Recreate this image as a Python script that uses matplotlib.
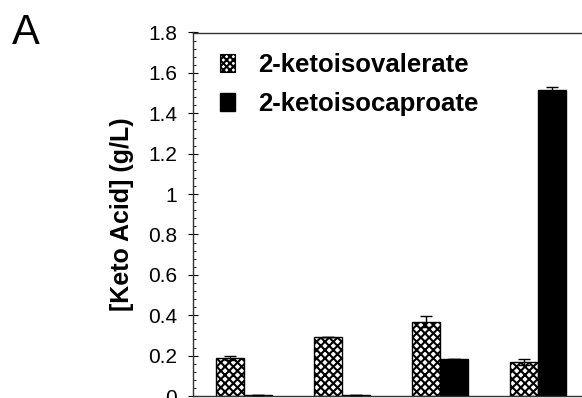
import matplotlib
matplotlib.use("Agg")
import matplotlib.pyplot as plt
import numpy as np
from matplotlib.ticker import MultipleLocator, FuncFormatter
from matplotlib.patches import Patch

plt.rcParams['font.family'] = ['Liberation Sans', 'DejaVu Sans']
plt.rcParams['hatch.linewidth'] = 1.5

# Data
groups = ['1', '2', '3', '4']
kiv = [0.188, 0.29, 0.368, 0.168]
kiv_err = [0.008, 0.0, 0.028, 0.016]
kic = [0.005, 0.005, 0.185, 1.515]
kic_err = [0.0, 0.0, 0.0, 0.016]
series_names = ['2-ketoisovalerate', '2-ketoisocaproate']

W, H = 582, 398
fig = plt.figure(figsize=(W / 100, H / 100), dpi=100)
left, right_px, top, bottom = 193, 611, 32.5, 396
ax = fig.add_axes([left / W, (H - bottom) / H, (right_px - left) / W, (bottom - top) / H])

x = np.arange(len(groups))
bw = 0.29
ax.bar(x - bw / 2, kiv, bw, color='white', edgecolor='black', hatch='xxxx', linewidth=1.0, zorder=2)
ax.bar(x + bw / 2, kic, bw, color='black', edgecolor='black', linewidth=1.0, zorder=2)
ax.errorbar(x - bw / 2, kiv, yerr=kiv_err, fmt='none', ecolor='black', elinewidth=1.0, capsize=4.5, capthick=1.0, zorder=3)
ax.errorbar(x + bw / 2, kic, yerr=kic_err, fmt='none', ecolor='black', elinewidth=1.0, capsize=4.5, capthick=1.0, zorder=3)

ax.set_xlim(-0.52, -0.52 + (right_px - left) / 98.0)
ax.set_ylim(0, 1.8)
ax.yaxis.set_major_locator(MultipleLocator(0.2))
ax.yaxis.set_minor_locator(MultipleLocator(0.04))
ax.yaxis.set_major_formatter(FuncFormatter(lambda v, p: '%g' % round(v, 2)))
ax.tick_params(axis='y', which='major', direction='inout', length=7, width=0.8, labelsize=15, pad=8)
ax.tick_params(axis='y', which='minor', direction='in', length=2.2, width=0.6)
ax.set_xticks(x)
ax.set_xticklabels(groups)
ax.tick_params(axis='x', length=0, labelbottom=False)
for s in ax.spines.values():
    s.set_linewidth(1.0)
    s.set_color('#333333')

ax.set_ylabel('[Keto Acid] (g/L)', fontsize=18, fontweight='bold', labelpad=10)

handles = [Patch(facecolor='white', edgecolor='black', hatch='xxxxx', linewidth=0.8),
           Patch(facecolor='black', edgecolor='black')]
leg = ax.legend(handles, series_names, loc='upper left', bbox_to_anchor=((220 - left) / (right_px - left), 1 - 20 / (bottom - top)),
                frameon=False, prop={'weight': 'bold', 'size': 18.5},
                handlelength=0.6, handleheight=0.7, handletextpad=0.9, labelspacing=0.62, borderaxespad=0, borderpad=0)

fig.text(12 / W, 1 - 13 / H, 'A', fontsize=30, va='top', ha='left')

fig.savefig('out.png', dpi=100)
